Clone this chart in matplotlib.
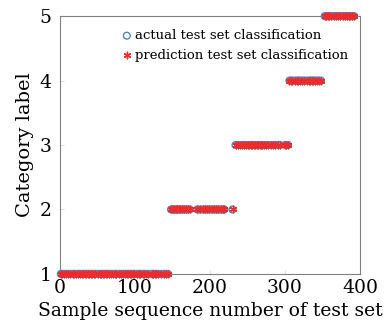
import matplotlib
matplotlib.use("Agg")
import matplotlib.pyplot as plt

# sample indices per class
c1 = [1,3,5,8,10,13,17,19,21,24,26,29,31,33,35,37,39,41,43,45,47,50,53,55,57,59,61,63,65,68,71,73,75,78,81,84,87,89,91,93,95,97,99,102,105,107,110,112,114,117,122,124,126,128,131,135,138,141,144]
c2 = [148,150,152,154,156,158,160,163,165,168,170,173,183,186,190,193,196,199,202,205,208,211,214,217,219,230]
c3 = [234,237,240,242,245,248,250,252,254,256,258,260,262,264,266,268,270,272,275,278,281,284,287,291,293,300,302,304]
c4 = [306,308,310,313,316,318,320,323,326,329,332,334,336,338,340,343,345,348]
c5 = [353,355,357,359,362,365,368,371,374,377,380,383,385,387,390,392]
classes = [1, 2, 3, 4, 5]
groups = [c1, c2, c3, c4, c5]

xs = [x for g in groups for x in g]
actual = [c for c, g in zip(classes, groups) for _ in g]
predicted = list(actual)

xticks = [0, 100, 200, 300, 400]
yticks = [1, 2, 3, 4, 5]

plt.rcParams['font.family'] = ['DejaVu Serif']
fig = plt.figure(figsize=(3.9, 3.23), dpi=100)
ax = fig.add_axes([0.154, 0.152, 0.769, 0.798])

ax.scatter(xs, actual, s=24, marker='o', facecolors='none', edgecolors='#4f86c6',
           linewidths=1.0, clip_on=False, label='actual test set classification', zorder=3)
ax.scatter(xs, predicted, s=22, marker=(6, 2, 0), color='#ee2a2a',
           linewidths=1.0, clip_on=False, label='prediction test set classification', zorder=4)

ax.set_xlim(0, 400)
ax.set_ylim(1, 5)
ax.set_xticks(xticks)
ax.set_yticks(yticks)
ax.tick_params(direction='in', length=3, color='#e0e0e0', labelsize=13.5)
ax.tick_params(axis='x', pad=4)
ax.tick_params(axis='y', pad=6)
for s in ax.spines.values():
    s.set_color('#808080')
    s.set_linewidth(0.8)
ax.set_xlabel('Sample sequence number of test set', fontsize=13.5, labelpad=3)
ax.set_ylabel('Category label', fontsize=14, labelpad=4)

ax.legend(loc='upper left', bbox_to_anchor=(0.183, 0.97), frameon=False, fontsize=9.5,
          handletextpad=0.1, markerscale=1.0, borderaxespad=0, labelspacing=0.5,
          handlelength=1.0)

fig.savefig('out.png', dpi=100)
